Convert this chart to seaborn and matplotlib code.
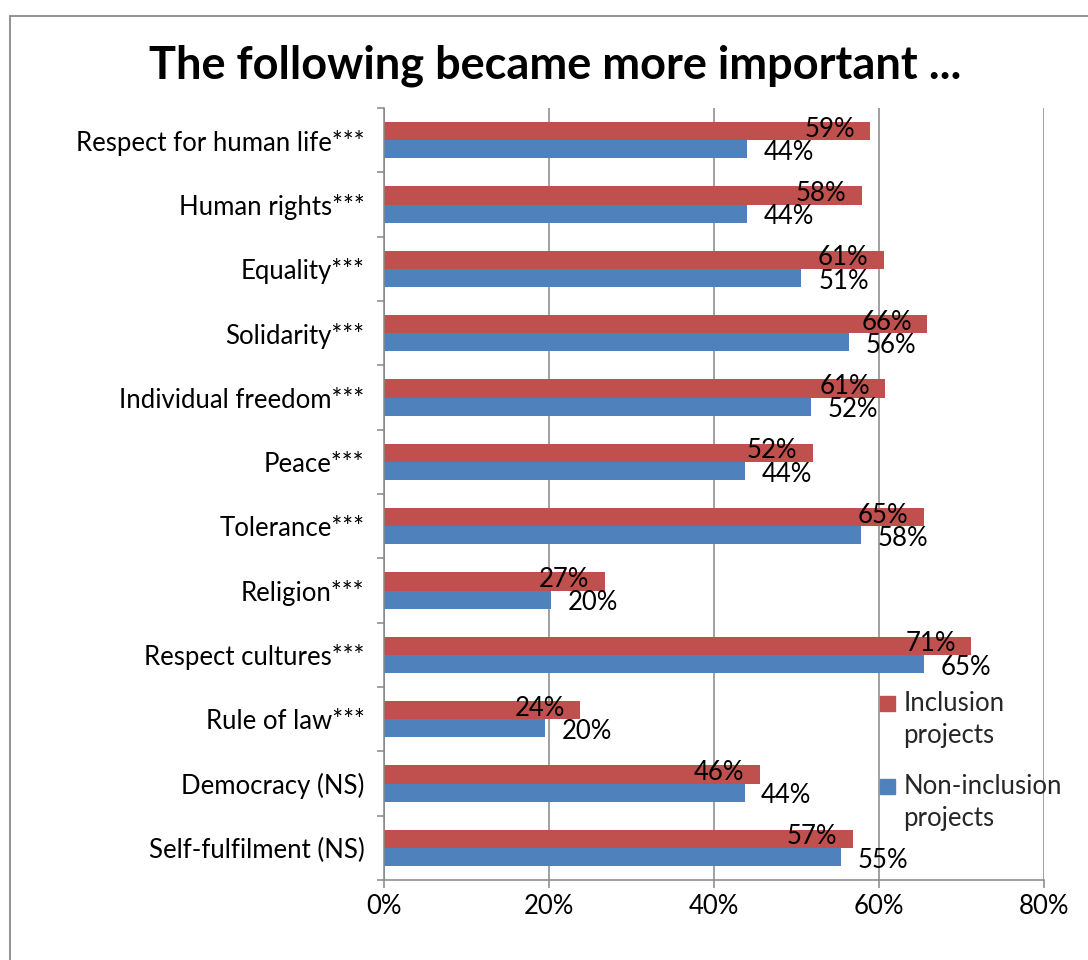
import matplotlib
matplotlib.use("Agg")
import matplotlib.pyplot as plt
import matplotlib.patches as mpatches
from matplotlib.legend_handler import HandlerPatch
from matplotlib.ticker import PercentFormatter, FixedLocator
import seaborn as sns
import pandas as pd

categories = ["Respect for human life***", "Human rights***", "Equality***", "Solidarity***",
              "Individual freedom***", "Peace***", "Tolerance***", "Religion***",
              "Respect cultures***", "Rule of law***", "Democracy (NS)", "Self-fulfilment (NS)"]
inclusion = [58.95, 57.9, 60.6, 65.85, 60.75, 51.95, 65.45, 26.75, 71.2, 23.8, 45.55, 56.8]
non_inclusion = [43.95, 44.05, 50.6, 56.35, 51.8, 43.75, 57.8, 20.3, 65.45, 19.55, 43.7, 55.4]
series = ["Inclusion\nprojects", "Non-inclusion\nprojects"]
colors = ["#C0504D", "#4F81BD"]
xticks = [0, 20, 40, 60, 80]
title = "The following became more important ..."

df = pd.DataFrame({
    "category": categories * 2,
    "value": inclusion + non_inclusion,
    "series": [series[0]] * len(categories) + [series[1]] * len(categories),
})

sns.set_theme(style="white")
plt.rcParams["font.family"] = ["Lato", "DejaVu Sans"]

fig = plt.figure(figsize=(10.88, 9.6), dpi=100)
ax = fig.add_axes([384 / 1088, 1 - 880 / 960, (1044 - 384) / 1088, (880 - 108) / 960])

sns.barplot(data=df, y="category", x="value", hue="series", order=categories,
            hue_order=series, palette=colors, orient="h", width=0.56,
            saturation=1, ax=ax, legend=False, linewidth=0)

ax.set_xlim(0, 80)
ax.set_ylim(len(categories) - 0.5, -0.5)
ax.xaxis.set_major_locator(FixedLocator(xticks))
ax.xaxis.set_major_formatter(PercentFormatter(decimals=0))
ax.set_xlabel("")
ax.set_ylabel("")

grid_c = "#868686"
ax.grid(axis="x", color=grid_c, linewidth=1.1)
ax.set_axisbelow(True)
for s in ["top", "right"]:
    ax.spines[s].set_visible(False)
for s in ["left", "bottom"]:
    ax.spines[s].set_color(grid_c)
    ax.spines[s].set_linewidth(1.1)

ax.yaxis.set_minor_locator(FixedLocator([i - 0.5 for i in range(len(categories) + 1)]))
ax.tick_params(axis="y", which="major", length=0, pad=14, labelsize=18.5, labelcolor="black")
ax.tick_params(axis="y", which="minor", length=5, width=1.1, color=grid_c, left=True)
ax.tick_params(axis="x", which="major", length=6, width=1.1, color=grid_c, bottom=True,
               pad=4, labelsize=18.5, labelcolor="black")

# data labels
c_red, c_blue = ax.containers[0], ax.containers[1]
red_labels = ax.bar_label(c_red, fmt="{:.0f}%", padding=-11, fontsize=18.5, color="black")
for t in red_labels:
    t.set_ha("right")
    t.set_va("center")
    t.xyann = (-11, 1.5)
blue_labels = ax.bar_label(c_blue, fmt="{:.0f}%", padding=12, fontsize=18.5, color="black")
for t in blue_labels:
    t.xyann = (12, -2.5)

fig.text(555 / 1088, 1 - 66 / 960, title, ha="center", va="center", fontsize=32.5,
         fontweight="bold", color="black")


def square_top(legend, orig_handle, xdescent, ydescent, width, height, fontsize):
    side = 11.0
    return mpatches.Rectangle((-xdescent, -ydescent + height / 2 - side / 2 + 0.66 * fontsize),
                              side, side)


handles = [mpatches.Patch(color=c) for c in colors]
leg = fig.legend(handles, series, loc="upper left", bbox_to_anchor=(880 / 1088, 1 - 691 / 960),
                 frameon=False, fontsize=18.5, handlelength=0.6, handleheight=0.6,
                 handletextpad=0.3, labelspacing=1.0, borderpad=0, borderaxespad=0,
                 handler_map={mpatches.Patch: HandlerPatch(patch_func=square_top)})
for t in leg.get_texts():
    t.set_linespacing(1.36)

border = mpatches.Rectangle((9.5 / 1088, -0.1), 1.2, 1.1 - 16 / 960, transform=fig.transFigure,
                            fill=False, edgecolor="#898989", linewidth=1.3)
fig.add_artist(border)

fig.savefig("out.png", dpi=100)
